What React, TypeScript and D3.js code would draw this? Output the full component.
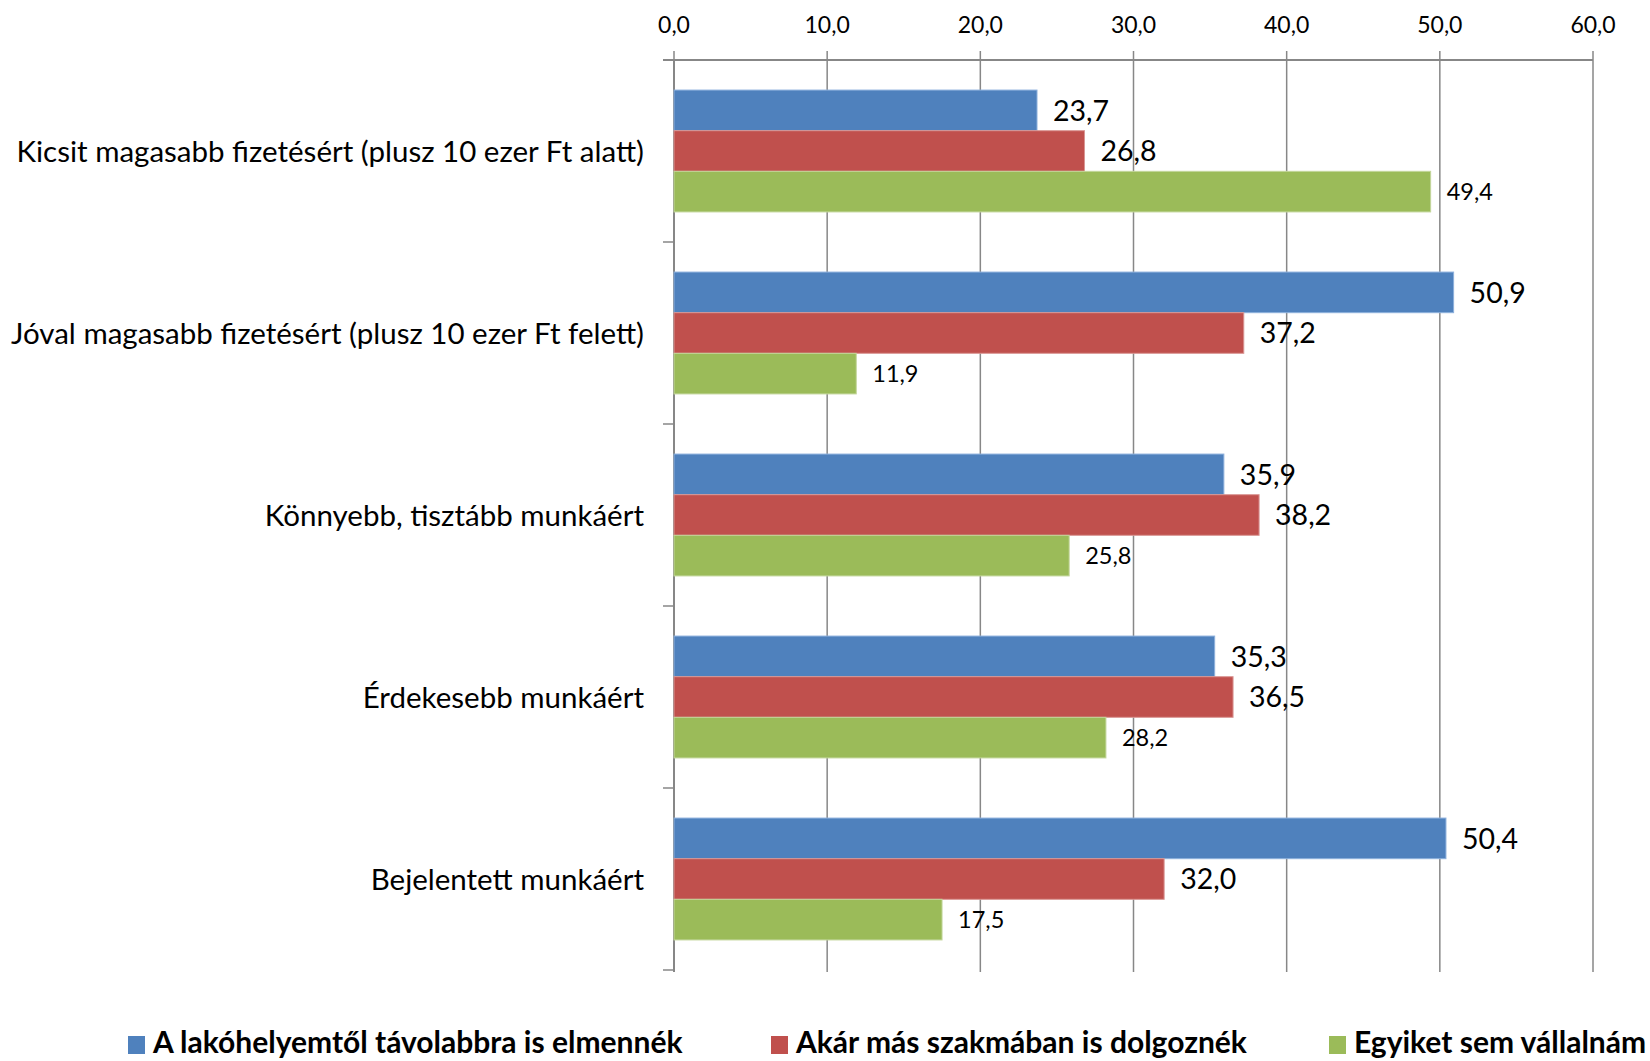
import React from "react";
import * as d3 from "d3";

const categories = [
  "Kicsit magasabb fizetésért (plusz 10 ezer Ft alatt)",
  "Jóval magasabb fizetésért (plusz 10 ezer Ft felett)",
  "Könnyebb, tisztább munkáért",
  "Érdekesebb munkáért",
  "Bejelentett munkáért",
];
const seriesNames = [
  "A lakóhelyemtől távolabbra is elmennék",
  "Akár más szakmában is dolgoznék",
  "Egyiket sem vállalnám",
];
const lakohely = [23.7, 50.9, 35.9, 35.3, 50.4];
const szakma = [26.8, 37.2, 38.2, 36.5, 32.0];
const egyiket = [49.4, 11.9, 25.8, 28.2, 17.5];
const xTicks = [0, 10, 20, 30, 40, 50, 60];

const colors = ["#4F81BD", "#C0504D", "#9BBB59"];
const strokes = ["#8DB0DC", "#D99694", "#C3D69B"];
const FONT = "Lato, 'Open Sans', sans-serif";

export default function App() {
  const W = 1650, H = 1061;
  const left = 674, right = 1593, top = 60, bottom = 970;
  const x = d3.scaleLinear().domain([0, 60]).range([left, right]);
  const y = d3.scaleBand<number>().domain(d3.range(categories.length)).range([top, bottom]).padding(0);
  const inner = d3.scaleBand<number>().domain([0, 1, 2]).range([0, y.bandwidth()]).paddingInner(0).paddingOuter(0.74);
  const series = [lakohely, szakma, egyiket];
  const fmt = (v: number) => d3.format(".1f")(v).replace(".", ",");
  const gridColor = "#878787";
  const legendX = [128, 771, 1329];

  return (
    <svg width={W} height={H} style={{ position: "absolute", left: 0, top: 0, background: "#fff" }}>
      {xTicks.map((t) => (
        <line key={"g" + t} x1={x(t)} x2={x(t)} y1={top - 9} y2={bottom + 2} stroke={gridColor} strokeWidth={1.5} />
      ))}
      <line x1={left - 11} x2={x(60)} y1={top} y2={top} stroke={gridColor} strokeWidth={2} />
      <line x1={left} x2={left} y1={top} y2={bottom + 2} stroke={gridColor} strokeWidth={2} />
      {d3.range(categories.length + 1).map((i) => (
        <line key={"ct" + i} x1={left - 11} x2={left} y1={top + i * y.step()} y2={top + i * y.step()} stroke={gridColor} strokeWidth={1.5} />
      ))}
      {xTicks.map((t) => (
        <text key={"tl" + t} x={x(t)} y={33} textAnchor="middle" fontFamily={FONT} fontSize={23} fill="#000">
          {fmt(t)}
        </text>
      ))}
      {categories.map((c, i) =>
        series.map((s, k) => {
          const by = (y(i) as number) + (inner(k) as number);
          const bh = inner.bandwidth();
          return (
            <g key={c + k}>
              <rect x={x(0)} y={by} width={x(s[i]) - x(0)} height={bh} fill={colors[k]} stroke={strokes[k]} strokeWidth={1} />
              <text
                x={x(s[i]) + 16}
                y={by + bh / 2}
                dy="0.36em"
                fontFamily={FONT}
                fontSize={k === 2 ? 23.5 : 28.5}
                fill="#000"
              >
                {fmt(s[i])}
              </text>
            </g>
          );
        })
      )}
      {categories.map((c, i) => (
        <text key={"cl" + i} x={644} y={(y(i) as number) + y.bandwidth() / 2} dy="0.36em" textAnchor="end" fontFamily={FONT} fontSize={29.5} fill="#000">
          {c}
        </text>
      ))}
      {seriesNames.map((n, k) => (
        <g key={"lg" + k}>
          <rect x={legendX[k]} y={1036} width={17} height={18} fill={colors[k]} />
          <text x={legendX[k] + 25} y={1053} fontFamily={FONT} fontWeight="bold" fontSize={30} fill="#000">
            {n}
          </text>
        </g>
      ))}
    </svg>
  );
}
